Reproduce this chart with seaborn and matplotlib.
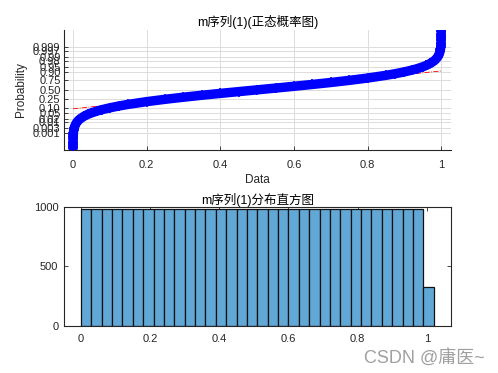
import math
import numpy as np
import matplotlib
matplotlib.use("Agg")
import matplotlib.pyplot as plt
import seaborn as sns

# ---------------- data ----------------
# normal probability plot: sorted data value vs. plotting probability
data_vals = [0.000015, 0.00003, 0.00006, 0.0001, 0.0002, 0.0004, 0.0007, 0.001,
             0.002, 0.003, 0.005, 0.0075, 0.01, 0.015, 0.02, 0.03, 0.04, 0.05,
             0.065, 0.08, 0.1, 0.125, 0.15, 0.2, 0.25, 0.3, 0.35, 0.4, 0.45,
             0.5, 0.55, 0.6, 0.65, 0.7, 0.75, 0.8, 0.85, 0.875, 0.9, 0.92,
             0.935, 0.95, 0.96, 0.97, 0.98, 0.985, 0.99, 0.9925, 0.995, 0.997,
             0.998, 0.999, 0.9993, 0.9996, 0.9998, 0.9999, 0.99994, 0.99997,
             0.999985]
prob_vals = [0.000015, 0.00003, 0.00006, 0.0001, 0.0002, 0.0004, 0.0007, 0.001,
             0.002, 0.003, 0.005, 0.0075, 0.01, 0.015, 0.02, 0.03, 0.04, 0.05,
             0.065, 0.08, 0.1, 0.125, 0.15, 0.2, 0.25, 0.3, 0.35, 0.4, 0.45,
             0.5, 0.55, 0.6, 0.65, 0.7, 0.75, 0.8, 0.85, 0.875, 0.9, 0.92,
             0.935, 0.95, 0.96, 0.97, 0.98, 0.985, 0.99, 0.9925, 0.995, 0.997,
             0.998, 0.999, 0.9993, 0.9996, 0.9998, 0.9999, 0.99994, 0.99997,
             0.999985]
# reference line through the quartiles (solid part) and its extension (dash-dot)
ref_x_solid = [0.25, 0.75]
ref_p_solid = [0.25, 0.75]
ref_x_ext = [0.0, 1.0]
ref_p_ext = [0.0887, 0.9113]

prob_ticks = [0.001, 0.003, 0.01, 0.02, 0.05, 0.10, 0.25, 0.50, 0.75,
              0.90, 0.95, 0.98, 0.99, 0.997, 0.999]
prob_tick_labels = ["0.001", "0.003", "0.01", "0.02", "0.05", "0.10", "0.25",
                    "0.50", "0.75", "0.90", "0.95", "0.98", "0.99", "0.997", "0.999"]

# histogram counts (bin width 0.03 starting at 0)
hist_counts = [983] * 33 + [327]
bin_start = 0.0
bin_width = 0.03

x_ticks = [0, 0.2, 0.4, 0.6, 0.8, 1]
x_tick_labels = ["0", "0.2", "0.4", "0.6", "0.8", "1"]
hist_yticks = [0, 500, 1000]

title_top = "m序列(1)(正态概率图)"
title_bottom = "m序列(1)分布直方图"

# ---------------- normal probability scale ----------------
_erf = np.vectorize(math.erf, otypes=[float])


def norm_cdf(z):
    z = np.asarray(z, dtype=float)
    if z.size == 0:
        return z.copy()
    return 0.5 * (1.0 + _erf(z / math.sqrt(2.0)))


def norm_ppf(p):
    p = np.asarray(p, dtype=float)
    if p.size == 0:
        return p.copy()
    p = np.clip(p, 1e-14, 1 - 1e-14)
    lo = np.full(p.shape, -10.0)
    hi = np.full(p.shape, 10.0)
    for _ in range(70):
        mid = 0.5 * (lo + hi)
        below = norm_cdf(mid) < p
        lo = np.where(below, mid, lo)
        hi = np.where(below, hi, mid)
    return 0.5 * (lo + hi)


# ---------------- figure ----------------
sns.set_theme(style="white")
plt.rcParams["font.family"] = ["Liberation Sans", "Noto Sans CJK SC", "DejaVu Sans"]
text_col = "#262626"

fig = plt.figure(figsize=(4.98, 3.73), dpi=100)
fig.patch.set_facecolor("white")

ax1 = fig.add_axes([0.1285, 0.5979, 0.777, 0.3217])
ax2 = fig.add_axes([0.1285, 0.1268, 0.777, 0.3190])

# --- top: normal probability plot
ax1.plot(ref_x_ext, ref_p_ext, color="red", lw=0.6, ls="-.", zorder=2)
ax1.plot(ref_x_solid, ref_p_solid, color="red", lw=0.6, ls="-", zorder=2)
sns.lineplot(x=data_vals, y=prob_vals, ax=ax1, sort=False, estimator=None,
             color="blue", lw=6.8, marker="+", markersize=7.2, markeredgewidth=1.2,
             markeredgecolor="blue", zorder=3)
ax1.set_yscale("function", functions=(norm_ppf, norm_cdf))
ax1.set_ylim(float(norm_cdf(-4.29)), float(norm_cdf(4.27)))
ax1.set_xlim(-0.0245, 1.0265)
ax1.set_yticks(prob_ticks)
ax1.set_yticklabels(prob_tick_labels)
ax1.set_xticks(x_ticks)
ax1.set_xticklabels(x_tick_labels)
ax1.minorticks_off()
ax1.grid(True, color="#dcdcdc", lw=0.7)
ax1.set_axisbelow(True)
for s in ["top", "right"]:
    ax1.spines[s].set_visible(False)
for s in ["left", "bottom"]:
    ax1.spines[s].set_color(text_col)
    ax1.spines[s].set_linewidth(0.8)
ax1.tick_params(direction="in", length=3, width=0.6, colors=text_col,
                labelsize=8, left=True, bottom=True)
ax1.tick_params(axis="x", pad=7)
ax1.tick_params(axis="y", pad=2.5)
ax1.set_title(title_top, fontsize=9, color="black", pad=3)
ax1.set_xlabel("Data", fontsize=8.5, color=text_col, labelpad=3)
ax1.set_ylabel("Probability", fontsize=8.5, color=text_col, labelpad=4)

# --- bottom: histogram
edges = [bin_start + i * bin_width for i in range(len(hist_counts) + 1)]
centers = [bin_start + (i + 0.5) * bin_width for i in range(len(hist_counts))]
sns.histplot(x=centers, weights=hist_counts, bins=edges, ax=ax2,
             color="#62a8d6", alpha=1.0, edgecolor="#111111", linewidth=0.9)
ax2.set_xlim(-0.049, 1.07)
ax2.set_ylim(0, 1000)
ax2.set_xticks(x_ticks)
ax2.set_xticklabels(x_tick_labels)
ax2.set_yticks(hist_yticks)
ax2.set_ylabel("")
ax2.set_xlabel("")
for s in ax2.spines.values():
    s.set_visible(True)
    s.set_color(text_col)
    s.set_linewidth(0.8)
ax2.tick_params(direction="in", length=3, width=0.6, colors=text_col,
                labelsize=8, pad=6, left=True, bottom=True, top=True, right=True)
ax2.tick_params(axis="y", pad=4)
ax2.set_title(title_bottom, fontsize=9, color="black", pad=2)

# watermark
fig.text(0.974, 0.028, "CSDN @庸医~", ha="right", va="baseline",
         fontsize=13, color="#a0a0a0")

fig.savefig("out.png", dpi=100, facecolor="white")
